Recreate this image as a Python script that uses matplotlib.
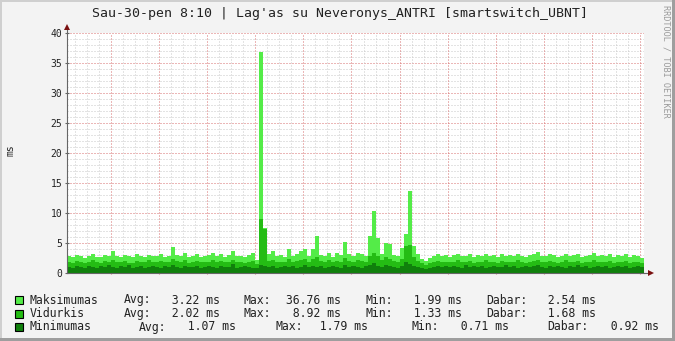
import numpy as np
import matplotlib.pyplot as plt
from matplotlib.patches import Rectangle

W, H = 675, 341
START = 8 + 10 / 60  # Thu 08:10, window is 24 h in 10 min steps

# ms, one value per 10 minutes
maksimumas = [
    2.9, 2.6, 3.0, 2.8, 2.5, 2.9, 3.1, 2.7, 2.6, 3.0, 2.8, 3.7,
    2.9, 2.7, 3.0, 2.8, 2.6, 3.1, 2.9, 2.7, 3.0, 2.8, 2.9, 3.2,
    2.7, 2.9, 4.3, 3.0, 2.8, 3.3, 2.6, 2.9, 3.1, 2.7, 2.8, 3.0,
    3.3, 2.9, 3.2, 2.7, 3.0, 3.7, 2.8, 2.9, 2.7, 3.0, 3.3, 2.2,
    36.76, 7.5, 3.1, 3.7, 2.8, 3.0, 2.7, 4.0, 2.9, 3.1, 3.6, 4.0,
    2.8, 4.0, 6.2, 3.0, 2.9, 3.4, 2.7, 3.3, 3.0, 5.2, 3.1, 2.8,
    3.3, 3.1, 2.9, 6.2, 10.3, 5.9, 3.2, 5.0, 4.8, 3.0, 2.9, 4.2,
    6.5, 13.7, 4.5, 3.1, 2.4, 1.99, 2.5, 2.9, 3.1, 2.8, 3.0, 2.7,
    3.0, 3.2, 2.8, 2.9, 3.1, 2.7, 3.0, 2.9, 3.2, 2.8, 3.0, 2.7,
    3.1, 2.9, 3.0, 2.8, 3.2, 2.9, 2.7, 3.0, 3.1, 3.5, 2.9, 2.8,
    3.1, 3.0, 2.7, 2.9, 3.2, 2.8, 3.0, 3.1, 2.7, 2.9, 3.0, 3.3,
    2.8, 3.0, 2.9, 3.1, 2.7, 3.0, 2.8, 3.1, 2.6, 3.0, 2.9, 2.54,
]
vidurkis = [
    1.9, 1.7, 2.0, 1.8, 1.6, 1.9, 2.1, 1.8, 1.7, 2.0, 1.9, 2.2,
    1.9, 1.8, 2.0, 1.7, 1.6, 2.0, 1.9, 1.8, 2.1, 1.8, 1.9, 2.0,
    1.8, 1.9, 2.4, 2.0, 1.8, 2.1, 1.7, 1.9, 2.0, 1.8, 1.8, 1.9,
    2.1, 1.9, 2.0, 1.8, 1.9, 2.2, 1.8, 1.9, 1.7, 1.9, 2.0, 1.5,
    8.92, 7.4, 2.0, 2.2, 1.8, 1.9, 1.8, 2.3, 1.9, 2.0, 2.2, 2.4,
    1.9, 2.3, 2.6, 2.0, 1.9, 2.1, 1.8, 2.0, 1.9, 2.5, 2.0, 1.8,
    2.1, 2.0, 1.9, 2.8, 3.3, 2.9, 2.1, 2.6, 2.4, 2.0, 1.9, 2.3,
    4.5, 4.7, 2.6, 2.0, 1.6, 1.33, 1.6, 1.9, 2.0, 1.8, 1.9, 1.8,
    1.9, 2.1, 1.8, 1.9, 2.0, 1.7, 1.9, 1.9, 2.1, 1.8, 1.9, 1.7,
    2.0, 1.9, 1.9, 1.8, 2.1, 1.9, 1.7, 1.9, 2.0, 2.2, 1.9, 1.8,
    2.0, 1.9, 1.7, 1.9, 2.1, 1.8, 1.9, 2.0, 1.7, 1.9, 1.9, 2.1,
    1.8, 1.9, 1.9, 2.0, 1.7, 1.9, 1.8, 2.0, 1.7, 1.9, 1.9, 1.68,
]
minimumas = [
    1.0, 0.9, 1.1, 1.0, 0.9, 1.2, 1.0, 0.9, 1.1, 1.0, 1.3, 1.0,
    0.9, 1.1, 1.0, 1.4, 0.9, 1.0, 1.1, 0.9, 1.0, 1.2, 1.0, 0.9,
    1.1, 1.0, 1.3, 1.0, 0.9, 1.1, 1.0, 1.0, 1.2, 0.9, 1.0, 1.1,
    1.0, 0.9, 1.1, 1.0, 1.0, 1.5, 0.9, 1.0, 1.1, 1.0, 0.9, 0.8,
    1.3, 1.1, 1.0, 1.1, 0.9, 1.0, 1.2, 1.0, 1.1, 0.9, 1.0, 1.3,
    1.0, 1.1, 1.0, 1.2, 0.9, 1.0, 1.1, 1.0, 0.9, 1.4, 1.0, 1.1,
    1.0, 0.9, 1.1, 1.3, 1.6, 1.2, 1.0, 1.4, 1.1, 1.0, 0.9, 1.2,
    1.79, 1.5, 1.1, 1.0, 0.8, 0.71, 0.9, 1.0, 1.1, 1.0, 1.2, 1.0,
    1.1, 1.0, 0.9, 1.3, 1.0, 1.1, 1.0, 1.2, 0.9, 1.0, 1.1, 1.0,
    1.0, 1.3, 1.0, 1.1, 0.9, 1.0, 1.2, 1.0, 1.1, 1.4, 1.0, 0.9,
    1.1, 1.0, 1.2, 1.0, 0.9, 1.1, 1.0, 1.3, 1.0, 1.1, 0.9, 1.0,
    1.2, 1.0, 1.1, 0.9, 1.0, 1.2, 1.0, 1.1, 0.9, 1.0, 1.1, 0.92,
]

series_names = ["Maksimumas", "Vidurkis", "Minimumas"]
series_colors = ["#54EC48", "#24BC14", "#10800C"]
# legend stats: Avg, Max, Min, Dabar
stats = [
    (3.22, 36.76, 1.99, 2.54),
    (2.02, 8.92, 1.33, 1.68),
    (1.07, 1.79, 0.71, 0.92),
]
tick_clock = [12, 18, 24, 30]
tick_labels = ["Thu 12:00", "Thu 18:00", "Fri 00:00", "Fri 06:00"]
title = "Sau-30-pen 8:10 | Lag'as su Neveronys_ANTRI [smartswitch_UBNT]"

MONO = "DejaVu Sans Mono"
plt.rcParams["font.family"] = MONO


def fx(x):
    return x / W


def fy(y):
    return 1 - y / H


fig = plt.figure(figsize=(W / 100, H / 100), dpi=100, facecolor="#F3F3F3")
ax = fig.add_axes([fx(67), fy(273), (644 - 67) / W, (273 - 33) / H])
ax.set_facecolor("white")

edges = np.arange(len(maksimumas) + 1) / 6.0
for vals, col in zip([maksimumas, vidurkis, minimumas], series_colors):
    ax.stairs(vals, edges, fill=True, color=col, zorder=2, lw=0)

ax.set_xlim(0, 24)
ax.set_ylim(0, 40)

# dotted grid behind the data
dots = (0, (1, 2))
grid_kw = dict(lw=0.72, ls=dots, zorder=1)
minor_kw = dict(color="#C8C8C8", **grid_kw)
major_kw = dict(color="#D87070", **grid_kw)
for y in range(1, 41):
    ax.axhline(y, **(minor_kw if y % 5 else major_kw))
minor_x = np.arange(1 / 3, 24, 0.5)
major_x = np.arange(2 - 10 / 60, 24, 2)
for x in minor_x:
    if not np.any(np.isclose(x, major_x)):
        ax.axvline(x, **minor_kw)
for x in major_x:
    ax.axvline(x, **major_kw)

for s in ["top", "right"]:
    ax.spines[s].set_visible(False)
for s in ["left", "bottom"]:
    ax.spines[s].set_color("#666666")
    ax.spines[s].set_linewidth(0.8)
    ax.spines[s].set_zorder(4)

# axis extensions + arrows
ax.plot([24, 24.3], [0, 0], color="#666666", lw=0.8, clip_on=False, zorder=4)
ax.plot([0, 0], [40, 41], color="#666666", lw=0.8, clip_on=False, zorder=4)
ax.plot([24.3], [0], marker=">", ms=4, color="#7A1010", mew=0, clip_on=False, zorder=5)
ax.plot([0], [41], marker="^", ms=4, color="#7A1010", mew=0, clip_on=False, zorder=5)

tick_pos = [c - START for c in tick_clock]
ax.set_xticks(major_x)
ax.set_xticklabels(["" for _ in major_x])
ax.set_xticks(tick_pos, minor=True)
ax.set_xticklabels(tick_labels, minor=True)
ax.tick_params(axis="x", which="major", length=2, width=0.8, color="#D08080", direction="inout")
ax.tick_params(axis="x", which="minor", length=0, pad=3, labelsize=7, labelcolor="#222222")
ax.set_yticks(range(0, 41, 5))
ax.tick_params(axis="y", length=3, width=0.8, color="#666666", direction="inout",
               pad=2, labelsize=7, labelcolor="#222222")

fig.text(fx(340), fy(13), title, ha="center", va="center", fontsize=9.5, color="#222222")
fig.text(fx(10), fy(150), "ms", ha="center", va="center", rotation=90, fontsize=7, color="#222222")
fig.text(fx(666), fy(5), "RRDTOOL / TOBI OETIKER", ha="center", va="top", rotation=270,
         fontsize=6.1, color="#9A9A9A")

# legend
row_y = [300, 313.5, 327]
col_x = [
    [124, 158.2, 244, 279.1, 365.7, 400.2, 486.7, 534.5],
    [124, 158.2, 244, 279.1, 365.7, 400.2, 486.7, 534.5],
    [139, 173.5, 276, 306.2, 411.7, 447.2, 547.3, 597.2],
]
labels = ["Avg:", "Max:", "Min:", "Dabar:"]
for i, name in enumerate(series_names):
    y = row_y[i]
    fig.add_artist(Rectangle((fx(15), fy(y + 4)), 8 / W, 8 / H, transform=fig.transFigure,
                             facecolor=series_colors[i], edgecolor="black", lw=0.8))
    fig.text(fx(30), fy(y), name, va="center", fontsize=8.3, color="#222222")
    for k in range(4):
        fig.text(fx(col_x[i][2 * k]), fy(y), labels[k], va="center", fontsize=8.3, color="#222222")
        fig.text(fx(col_x[i][2 * k + 1]), fy(y), "%6.2f ms" % stats[i][k], va="center",
                 fontsize=8.3, color="#222222")

# rrdtool style frame
fig.add_artist(Rectangle((0, 0), 2 / W, 1, transform=fig.transFigure, color="#CFCFCF", lw=0))
fig.add_artist(Rectangle((0, 1 - 2 / H), 1, 2 / H, transform=fig.transFigure, color="#CFCFCF", lw=0))
fig.add_artist(Rectangle((1 - 3 / W, 0), 3 / W, 1, transform=fig.transFigure, color="#9E9E9E", lw=0))
fig.add_artist(Rectangle((0, 0), 1, 3 / H, transform=fig.transFigure, color="#9E9E9E", lw=0))

fig.savefig("out.png", dpi=100, facecolor=fig.get_facecolor())
